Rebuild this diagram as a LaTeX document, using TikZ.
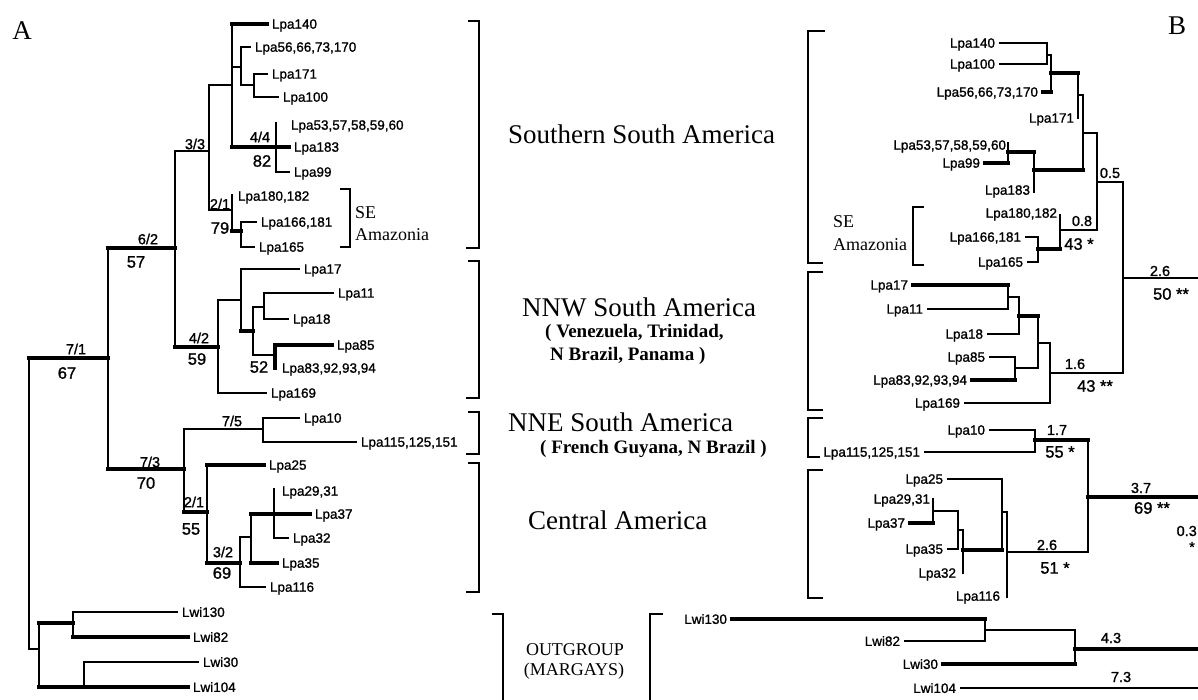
\documentclass[tikz,border=0pt]{standalone}
\usepackage{fontspec}
\setmainfont{Liberation Serif}
\newfontfamily\helv[FakeBold=1.2]{Liberation Sans}

\begin{document}
\begin{tikzpicture}[
    x=1pt, y=-1pt,
    br/.style={line width=1.7pt, line cap=rect},
    thk/.style={line width=3.5pt, line cap=rect},
    brace/.style={line width=1.8pt},
    tipA/.style={anchor=west, inner sep=0pt, outer sep=5pt, text depth=0pt, font=\helv\fontsize{13.5}{13.5}\selectfont},
    tipB/.style={anchor=east, inner sep=0pt, outer sep=5pt, text depth=0pt, font=\helv\fontsize{13.5}{13.5}\selectfont},
    supp/.style={inner sep=0pt, font=\helv\fontsize{14.5}{14.5}\selectfont},
    boot/.style={inner sep=0pt, font=\helv\fontsize{16.5}{16.5}\selectfont},
    region/.style={anchor=west, inner sep=0pt, font=\fontsize{27}{27}\selectfont},
    subregion/.style={anchor=west, inner sep=0pt, font=\bfseries\fontsize{19}{19}\selectfont},
    note/.style={anchor=west, inner sep=0pt, font=\fontsize{18}{18}\selectfont},
    panel/.style={inner sep=0pt, font=\fontsize{27}{27}\selectfont}
    ]
    \useasboundingbox (0,0) rectangle (1198,699);
    \fill[white] (0,0) rectangle (1198,699);
    \clip (0,0) rectangle (1198,699);

    \node[panel] (pa) at (22,31) {A};
    \node[panel] (pb) at (1177,26) {B};

    % ---- tree A : tips ----
    \node[tipA] (a140) at (267,24) {Lpa140};
    \node[tipA] (a56) at (250,47) {Lpa56,66,73,170};
    \node[tipA] (a171) at (267,74) {Lpa171};
    \node[tipA] (a100) at (278,97) {Lpa100};
    \node[tipA] (a53) at (286,125) {Lpa53,57,58,59,60};
    \node[tipA] (a183) at (289,147) {Lpa183};
    \node[tipA] (a99) at (289,172) {Lpa99};
    \node[tipA] (a180) at (233,196) {Lpa180,182};
    \node[tipA] (a166) at (256,222) {Lpa166,181};
    \node[tipA] (a165) at (254,247) {Lpa165};
    \node[tipA] (a17) at (299,269) {Lpa17};
    \node[tipA] (a11) at (333,293) {Lpa11};
    \node[tipA] (a18) at (288,319) {Lpa18};
    \node[tipA] (a85) at (332,345) {Lpa85};
    \node[tipA] (a83) at (277,368) {Lpa83,92,93,94};
    \node[tipA] (a169) at (266,393) {Lpa169};
    \node[tipA] (a10) at (299,418) {Lpa10};
    \node[tipA] (a115) at (356,442) {Lpa115,125,151};
    \node[tipA] (a25) at (264,465) {Lpa25};
    \node[tipA] (a29) at (277,491) {Lpa29,31};
    \node[tipA] (a37) at (310,514) {Lpa37};
    \node[tipA] (a32) at (288,538) {Lpa32};
    \node[tipA] (a35) at (277,563) {Lpa35};
    \node[tipA] (a116) at (265,587) {Lpa116};
    \node[tipA] (aw130) at (177,612) {Lwi130};
    \node[tipA] (aw82) at (188,637) {Lwi82};
    \node[tipA] (aw30) at (198,662) {Lwi30};
    \node[tipA] (aw104) at (188,687) {Lwi104};

    % ---- tree A : branches ----
    \draw[thk] (232,24) -- (a140.west);
    \draw[br] (232,24) -- (232,147);
    \draw[br] (232,67) -- (241,67);
    \draw[br] (a56.west) -- (241,47) -- (241,85) -- (254,85);
    \draw[br] (a171.west) -- (254,74) -- (254,97) -- (a100.west);
    \draw[thk] (232,147) -- (276,147) -- (a183.west);
    \draw[br] (276,123) -- (276,172) -- (a99.west);
    \draw[br] (175,151) -- (209,151);
    \draw[br] (232,85) -- (209,85) -- (209,210) -- (232,210);
    \draw[br] (232,195) -- (232,231);
    \draw[thk] (232,231) -- (241,231);
    \draw[br] (a166.west) -- (241,222) -- (241,247) -- (a165.west);
    \draw[thk] (108,248) -- (175,248);
    \draw[br] (175,151) -- (175,347);
    \draw[thk] (175,347) -- (218,347);
    \draw[br] (241,300) -- (218,300) -- (218,393) -- (a169.west);
    \draw[br] (a17.west) -- (241,269) -- (241,331);
    \draw[thk] (241,331) -- (253,331);
    \draw[br] (264,307) -- (253,307) -- (253,355) -- (275,355);
    \draw[br] (a11.west) -- (264,293) -- (264,319) -- (a18.west);
    \draw[thk] (275,368) -- (275,345) -- (a85.west);
    \draw[thk] (29,358) -- (108,358);
    \draw[br] (108,248) -- (108,469);
    \draw[thk] (108,469) -- (184,469);
    \draw[br] (263,429) -- (184,429) -- (184,512);
    \draw[br] (a10.west) -- (263,418) -- (263,442) -- (a115.west);
    \draw[thk] (184,512) -- (207,512);
    \draw[br] (207,465) -- (207,563);
    \draw[thk] (207,465) -- (a25.west);
    \draw[thk] (207,563) -- (240,563);
    \draw[br] (251,537) -- (240,537) -- (240,587) -- (a116.west);
    \draw[br] (251,514) -- (251,563);
    \draw[thk] (251,514) -- (a37.west);
    \draw[thk] (251,563) -- (a35.west);
    \draw[br] (274,489) -- (274,538) -- (a32.west);
    \draw[br] (29,358) -- (29,649) -- (39,649);
    \draw[br] (39,623) -- (39,687);
    \draw[thk] (39,623) -- (73,623);
    \draw[thk] (39,687) -- (84,687);
    \draw[br] (aw130.west) -- (73,612) -- (73,637);
    \draw[thk] (73,637) -- (aw82.west);
    \draw[br] (aw30.west) -- (84,662) -- (84,687);
    \draw[thk] (84,687) -- (aw104.west);

    % ---- tree A : support values ----
    \node[supp] (s44) at (260,137) {4/4};
    \node[boot] (b82) at (262,161) {82};
    \node[supp] (s33) at (195,144) {3/3};
    \node[supp] (s21a) at (220,204) {2/1};
    \node[boot] (b79) at (220,228) {79};
    \node[supp] (s62) at (148,239) {6/2};
    \node[boot] (b57) at (136,262) {57};
    \node[supp] (s42) at (199,338) {4/2};
    \node[boot] (b59) at (197,359) {59};
    \node[boot] (b52) at (259,367) {52};
    \node[supp] (s71) at (76,349) {7/1};
    \node[boot] (b67) at (67,373) {67};
    \node[supp] (s75) at (232,421) {7/5};
    \node[supp] (s73) at (150,462) {7/3};
    \node[boot] (b70) at (146,483) {70};
    \node[supp] (s21b) at (194,502) {2/1};
    \node[boot] (b55) at (191,529) {55};
    \node[supp] (s32) at (223,552) {3/2};
    \node[boot] (b69) at (222,573) {69};

    % SE Amazonia (A)
    \draw[brace] (340,189) -- (350,189) -- (350,247) -- (340,247);
    \node[note] (seA) at (355,213) {SE};
    \node[note] (amA) at (355,235) {Amazonia};

    % ---- regions ----
    \draw[brace] (468,21) -- (479,21) -- (479,248) -- (466,248);
    \draw[brace] (468,261) -- (479,261) -- (479,398) -- (466,398);
    \draw[brace] (468,412) -- (479,412) -- (479,454) -- (466,454);
    \draw[brace] (468,463) -- (479,463) -- (479,592) -- (466,592);
    \node[region] (rsouth) at (508,134) {Southern South America};
    \node[region] (rnnw) at (522,307) {NNW South America};
    \node[subregion] (rnnw2) at (545,333) {( Venezuela, Trinidad,};
    \node[subregion] (rnnw3) at (550,356) {N Brazil, Panama )};
    \node[region] (rnne) at (508,422) {NNE South America};
    \node[subregion] (rnne2) at (540,449) {( French Guyana, N Brazil )};
    \node[region] (rcent) at (528,520) {Central America};
    \draw[brace] (492,614) -- (503,614) -- (503,705);
    \node[note, anchor=center] (rout) at (575,650) {OUTGROUP};
    \node[note, anchor=center] (rout2) at (574,671) {(MARGAYS)};
    \draw[brace] (663,614) -- (650,614) -- (650,705);

    % ---- tree B : brackets ----
    \draw[brace] (825,31) -- (808,31) -- (808,263) -- (823,263);
    \draw[brace] (823,272) -- (808,272) -- (808,410) -- (823,410);
    \draw[brace] (823,418) -- (808,418) -- (808,457) -- (820,457);
    \draw[brace] (823,470) -- (808,470) -- (808,598) -- (823,598);
    \draw[brace] (924,207) -- (913,207) -- (913,265) -- (924,265);
    \node[note] (seB) at (833,222) {SE};
    \node[note] (amB) at (833,245) {Amazonia};

    % ---- tree B : tips ----
    \node[tipB] (b140) at (1000,43) {Lpa140};
    \node[tipB] (b100) at (1000,64) {Lpa100};
    \node[tipB] (b56) at (1043,92) {Lpa56,66,73,170};
    \node[tipB] (b171) at (1079,118) {Lpa171};
    \node[tipB] (b53) at (1011,145) {Lpa53,57,58,59,60};
    \node[tipB] (b99) at (985,163) {Lpa99};
    \node[tipB] (b183) at (1035,190) {Lpa183};
    \node[tipB] (b180) at (1062,213) {Lpa180,182};
    \node[tipB] (b166) at (1026,237) {Lpa166,181};
    \node[tipB] (b165) at (1028,262) {Lpa165};
    \node[tipB] (b17) at (913,285) {Lpa17};
    \node[tipB] (b11) at (928,309) {Lpa11};
    \node[tipB] (b18) at (988,334) {Lpa18};
    \node[tipB] (b85) at (990,357) {Lpa85};
    \node[tipB] (b83) at (972,380) {Lpa83,92,93,94};
    \node[tipB] (b169) at (965,403) {Lpa169};
    \node[tipB] (b10) at (990,430) {Lpa10};
    \node[tipB] (b115) at (925,452) {Lpa115,125,151};
    \node[tipB] (b25) at (948,479) {Lpa25};
    \node[tipB] (b29) at (935,499) {Lpa29,31};
    \node[tipB] (b37) at (910,523) {Lpa37};
    \node[tipB] (b35) at (948,549) {Lpa35};
    \node[tipB] (b32) at (961,573) {Lpa32};
    \node[tipB] (b116) at (1005,596) {Lpa116};
    \node[tipB] (bw130) at (732,619) {Lwi130};
    \node[tipB] (bw82) at (905,641) {Lwi82};
    \node[tipB] (bw30) at (943,664) {Lwi30};
    \node[tipB] (bw104) at (961,688) {Lwi104};

    % ---- tree B : branches ----
    \draw[br] (b140.east) -- (1047,43) -- (1047,64) -- (b100.east);
    \draw[br] (1047,55) -- (1051,55) -- (1051,92);
    \draw[thk] (b56.east) -- (1051,92);
    \draw[thk] (1051,73) -- (1078,73);
    \draw[br] (1078,73) -- (1078,118);
    \draw[br] (1078,95) -- (1083,95) -- (1083,170);
    \draw[br] (1008,143) -- (1008,163);
    \draw[thk] (b99.east) -- (1008,163);
    \draw[thk] (1008,152) -- (1034,152);
    \draw[br] (1034,152) -- (1034,192);
    \draw[thk] (1034,170) -- (1083,170);
    \draw[br] (1083,133) -- (1097,133) -- (1097,230);
    \draw[br] (1097,182) -- (1123,182) -- (1123,373);
    \draw[br] (1060,215) -- (1060,249);
    \draw[br] (1060,230) -- (1097,230);
    \draw[br] (b166.east) -- (1038,237) -- (1038,262) -- (b165.east);
    \draw[thk] (1038,249) -- (1060,249);
    \draw[br] (1123,278) -- (1198,278);
    \draw[thk] (b17.east) -- (1008,285);
    \draw[br] (1008,285) -- (1008,309) -- (b11.east);
    \draw[br] (1008,297) -- (1019,297) -- (1019,334) -- (b18.east);
    \draw[thk] (1019,316) -- (1038,316);
    \draw[br] (1038,316) -- (1038,368) -- (1015,368);
    \draw[br] (b85.east) -- (1015,357) -- (1015,380);
    \draw[thk] (b83.east) -- (1015,380);
    \draw[br] (1038,343) -- (1050,343) -- (1050,403) -- (b169.east);
    \draw[br] (1050,373) -- (1123,373);
    \draw[br] (b10.east) -- (1035,430) -- (1035,452) -- (b115.east);
    \draw[thk] (1035,440) -- (1088,440);
    \draw[br] (1088,440) -- (1088,552);
    \draw[thk] (1088,497) -- (1198,497);
    \draw[br] (b25.east) -- (1002,479) -- (1002,550);
    \draw[br] (933,499) -- (933,523);
    \draw[thk] (b37.east) -- (933,523);
    \draw[br] (933,511) -- (958,511) -- (958,549) -- (b35.east);
    \draw[br] (958,530) -- (963,530) -- (963,573);
    \draw[thk] (963,550) -- (1002,550);
    \draw[br] (1002,512) -- (1007,512) -- (1007,597);
    \draw[br] (1007,552) -- (1088,552);
    \draw[thk] (bw130.east) -- (985,619);
    \draw[br] (985,619) -- (985,641) -- (bw82.east);
    \draw[br] (985,630) -- (1075,630) -- (1075,664);
    \draw[thk] (bw30.east) -- (1075,664);
    \draw[thk] (1075,649) -- (1198,649);
    \draw[br] (bw104.east) -- (1198,688);

    % ---- tree B : branch lengths ----
    \node[supp] (l05) at (1110,173) {0.5};
    \node[supp] (l08) at (1082,221) {0.8};
    \node[boot] (p43a) at (1079,244) {43 *};
    \node[supp] (l26a) at (1160,271) {2.6};
    \node[boot] (p50) at (1171,294) {50 **};
    \node[supp] (l16) at (1075,364) {1.6};
    \node[boot] (p43b) at (1095,386) {43 **};
    \node[supp] (l17) at (1057,430) {1.7};
    \node[boot] (p55) at (1060,452) {55 *};
    \node[supp] (l37) at (1141,488) {3.7};
    \node[boot] (p69) at (1152,508) {69 **};
    \node[supp] (l26b) at (1047,545) {2.6};
    \node[boot] (p51) at (1055,568) {51 *};
    \node[supp, anchor=east] (l03) at (1197,531) {0.3};
    \node[supp] (p03) at (1192,547) {*};
    \node[supp] (l43) at (1111,638) {4.3};
    \node[supp] (l73) at (1121,677) {7.3};
\end{tikzpicture}
\end{document}
